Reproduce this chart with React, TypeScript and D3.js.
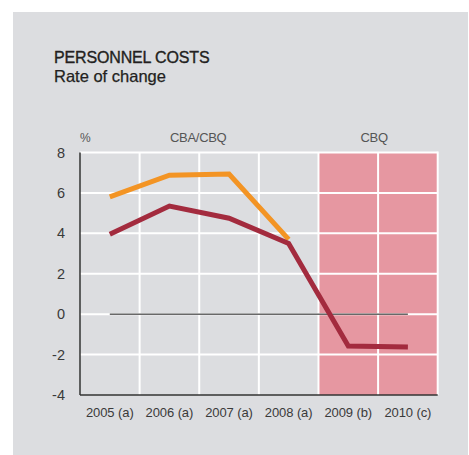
import React from "react";
import * as d3 from "d3";

const categories = ["2005 (a)", "2006 (a)", "2007 (a)", "2008 (a)", "2009 (b)", "2010 (c)"];
const orangeSeries = [5.8, 6.88, 6.93, 3.7];
const redSeries = [3.95, 5.35, 4.75, 3.5, -1.58, -1.62];
const yTicks = [-4, -2, 0, 2, 4, 6, 8];
const shadedCategories = ["2009 (b)", "2010 (c)"];

const W = 469;
const H = 455;
const font = "'Liberation Sans', Arial, Helvetica, sans-serif";

export default function App() {
  const x = d3.scaleBand<string>().domain(categories).range([80, 437.7]).padding(0);
  const y = d3.scaleLinear().domain([-4, 8]).range([395, 152.5]);
  const cx = (c: string) => (x(c) as number) + x.bandwidth() / 2;

  const line = d3
    .line<number>()
    .x((_, i) => cx(categories[i]))
    .y((d) => y(d));

  const shadeX0 = x(shadedCategories[0]) as number;
  const shadeX1 = (x(shadedCategories[shadedCategories.length - 1]) as number) + x.bandwidth();
  const [xr0, xr1] = x.range();

  return (
    <div style={{ position: "fixed", left: 0, top: 0 }}>
      <svg width={W} height={H} style={{ display: "block" }}>
        <rect x={13} y={12} width={455} height={H - 12} fill="#dcdde0" />
        <text x={54} y={63} fontFamily={font} fontSize={16} fill="#231f20" stroke="#231f20" strokeWidth={0.35} letterSpacing={-0.15}>
          PERSONNEL COSTS
        </text>
        <text x={54} y={82} fontFamily={font} fontSize={16.5} fill="#231f20" stroke="#231f20" strokeWidth={0.25}>
          Rate of change
        </text>

        {/* shaded region */}
        <rect x={shadeX0} y={y(8)} width={shadeX1 - shadeX0} height={y(-4) - y(8)} fill="#e697a1" />

        {/* horizontal gridlines */}
        {yTicks.filter((t) => t > -4).map((t) => (
          <line key={"h" + t} x1={xr0} x2={xr1} y1={y(t)} y2={y(t)} stroke="#ffffff" strokeWidth={2} />
        ))}
        {/* vertical gridlines */}
        {categories.slice(1).map((c) => (
          <line key={"v" + c} x1={x(c) as number} x2={x(c) as number} y1={y(8)} y2={y(-4)} stroke="#ffffff" strokeWidth={2} />
        ))}
        <line x1={xr1} x2={xr1} y1={y(8) - 1} y2={y(-4)} stroke="#ffffff" strokeWidth={2} />

        {/* zero line */}
        <line x1={cx(categories[0])} x2={cx(categories[categories.length - 1])} y1={y(0)} y2={y(0)} stroke="#1a1a1a" strokeWidth={1} />

        {/* axes */}
        <line x1={xr0} x2={xr0} y1={y(8)} y2={y(-4)} stroke="#333" strokeWidth={1.5} />
        <line x1={xr0} x2={xr1} y1={y(-4)} y2={y(-4)} stroke="#333" strokeWidth={1.5} />

        {/* series */}
        <path d={line(orangeSeries) || ""} fill="none" stroke="#f39424" strokeWidth={5} strokeLinejoin="miter" strokeLinecap="butt" />
        <path d={line(redSeries) || ""} fill="none" stroke="#a32b3e" strokeWidth={5} strokeLinejoin="miter" strokeLinecap="butt" />

        {/* y tick labels */}
        {yTicks.map((t) => (
          <text key={"yt" + t} x={65} y={y(t) + 5} textAnchor="end" fontFamily={font} fontSize={14.5} fill="#3a3a3a">
            {t}
          </text>
        ))}
        {/* x tick labels */}
        {categories.map((c) => (
          <text key={"xt" + c} x={cx(c)} y={417} textAnchor="middle" fontFamily={font} fontSize={13} fill="#3a3a3a" letterSpacing={-0.1}>
            {c}
          </text>
        ))}

        {/* header labels */}
        <text x={80} y={141.5} fontFamily={font} fontSize={12} fill="#555">%</text>
        <text x={(xr0 + shadeX0) / 2 - 1} y={141.5} textAnchor="middle" fontFamily={font} fontSize={13} fill="#555" letterSpacing={-0.3}>
          CBA/CBQ
        </text>
        <text x={(shadeX0 + shadeX1) / 2 - 4} y={141.5} textAnchor="middle" fontFamily={font} fontSize={13} fill="#555" letterSpacing={-0.3}>
          CBQ
        </text>
      </svg>
    </div>
  );
}
